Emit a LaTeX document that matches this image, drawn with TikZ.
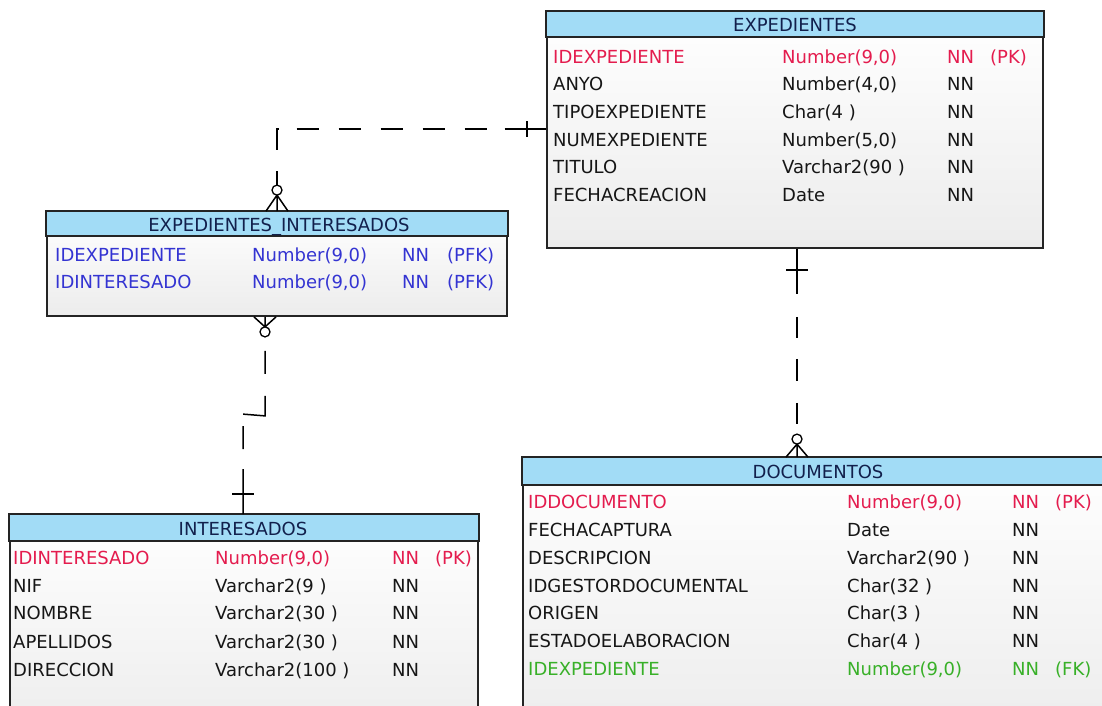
\documentclass[tikz,border=0pt]{standalone}
\usepackage{fontspec}
\setmainfont{DejaVu Sans}
\usetikzlibrary{calc}
\definecolor{pkred}{RGB}{228,28,78}
\definecolor{pfkblue}{RGB}{52,52,210}
\definecolor{fkgreen}{RGB}{56,176,40}
\definecolor{txt}{RGB}{22,22,22}
\definecolor{ttl}{RGB}{18,32,76}
\definecolor{hdrblue}{RGB}{162,220,246}
\definecolor{bord}{RGB}{36,36,36}
\definecolor{bodybot}{RGB}{236,236,236}
\newcommand\tabrow[7]{%
  \node[cell,text=#3] (#1-a) at (\cA,#2+6.6) {#4};
  \node[cell,text=#3] (#1-b) at (\cB,#2+6.6) {#5};
  \node[cell,text=#3] (#1-c) at (\cC,#2+6.6) {#6};
  \if\relax\detokenize{#7}\relax\else
  \node[cell,text=#3] (#1-d) at (\cD,#2+6.6) {#7};
  \fi}
\begin{document}
\begin{tikzpicture}[x=1pt,y=-1pt,
  tbl/.style={draw=bord,line width=1.8pt,top color=white,bottom color=bodybot,inner sep=0pt},
  hdr/.style={draw=bord,line width=1.8pt,fill=hdrblue},
  cell/.style={anchor=base west,inner sep=0pt,font=\fontsize{18}{20}\selectfont},
  ttlnode/.style={anchor=base,inner sep=0pt,text=ttl,font=\fontsize{18}{20}\selectfont},
  rel/.style={line width=1.5pt,black},
  knot/.style={line width=1.3pt,black,fill=white}]
\useasboundingbox (0,0) rectangle (1102,705);
\clip (0,0) rectangle (1102,705);
\fill[white] (0,0) rectangle (1102,705);

% ---- tables
\node[tbl,minimum width=496pt,minimum height=236pt] (exp) at (795,130) {};
\draw[hdr] (exp.north west) rectangle ([yshift=-26pt]exp.north east);
\node[ttlnode] (exp-t) at (795,31.6) {EXPEDIENTES};

\node[tbl,minimum width=460pt,minimum height=104pt] (ei) at (277,264) {};
\draw[hdr] (ei.north west) rectangle ([yshift=-25pt]ei.north east);
\node[ttlnode] (ei-t) at (279,231.1) {EXPEDIENTES\_INTERESADOS};

\node[tbl,minimum width=468pt,minimum height=225pt] (int) at (244,627.5) {};
\draw[hdr] (int.north west) rectangle ([yshift=-27pt]int.north east);
\node[ttlnode] (int-t) at (243,535.1) {INTERESADOS};

\node[tbl,minimum width=590pt,minimum height=282pt] (doc) at (818,599) {};
\draw[hdr] (doc.north west) rectangle ([yshift=-28pt]doc.north east);
\node[ttlnode] (doc-t) at (818,478.6) {DOCUMENTOS};

% ---- rows
\def\cA{553}\def\cB{782}\def\cC{947}\def\cD{990}
\tabrow{e1}{57}{pkred}{IDEXPEDIENTE}{Number(9,0)}{NN}{(PK)}
\tabrow{e2}{84}{txt}{ANYO}{Number(4,0)}{NN}{}
\tabrow{e3}{112}{txt}{TIPOEXPEDIENTE}{Char(4 )}{NN}{}
\tabrow{e4}{140}{txt}{NUMEXPEDIENTE}{Number(5,0)}{NN}{}
\tabrow{e5}{167}{txt}{TITULO}{Varchar2(90 )}{NN}{}
\tabrow{e6}{195}{txt}{FECHACREACION}{Date}{NN}{}

\def\cA{55}\def\cB{252}\def\cC{402}\def\cD{447}
\tabrow{i1}{255}{pfkblue}{IDEXPEDIENTE}{Number(9,0)}{NN}{(PFK)}
\tabrow{i2}{282}{pfkblue}{IDINTERESADO}{Number(9,0)}{NN}{(PFK)}

\def\cA{13}\def\cB{215}\def\cC{392}\def\cD{435}
\tabrow{n1}{558}{pkred}{IDINTERESADO}{Number(9,0)}{NN}{(PK)}
\tabrow{n2}{586}{txt}{NIF}{Varchar2(9 )}{NN}{}
\tabrow{n3}{613}{txt}{NOMBRE}{Varchar2(30 )}{NN}{}
\tabrow{n4}{642}{txt}{APELLIDOS}{Varchar2(30 )}{NN}{}
\tabrow{n5}{670}{txt}{DIRECCION}{Varchar2(100 )}{NN}{}

\def\cA{528}\def\cB{847}\def\cC{1012}\def\cD{1055}
\tabrow{d1}{502}{pkred}{IDDOCUMENTO}{Number(9,0)}{NN}{(PK)}
\tabrow{d2}{530}{txt}{FECHACAPTURA}{Date}{NN}{}
\tabrow{d3}{558}{txt}{DESCRIPCION}{Varchar2(90 )}{NN}{}
\tabrow{d4}{586}{txt}{IDGESTORDOCUMENTAL}{Char(32 )}{NN}{}
\tabrow{d5}{613}{txt}{ORIGEN}{Char(3 )}{NN}{}
\tabrow{d6}{641}{txt}{ESTADOELABORACION}{Char(4 )}{NN}{}
\tabrow{d7}{669}{fkgreen}{IDEXPEDIENTE}{Number(9,0)}{NN}{(FK)}

% ---- connector 1: EXPEDIENTES -> EXPEDIENTES_INTERESADOS
\coordinate (c1a) at ($(exp.north west)+(0,118)$);
\coordinate (c1b) at ($(ei.north)+(0,-82)$);
\draw[rel,dash pattern=on 14pt off 21.5pt on 22pt off 18pt on 22pt off 20pt on 22pt off 20pt on 22pt off 20pt on 22pt off 20pt on 22pt off 18pt on 60pt]
  ($(ei.north)+(0,-26)$) -- (c1b) -- (c1a);
\draw[rel] ($(c1a)+(-19,-8)$) -- ($(c1a)+(-19,8)$);
\draw[rel] ($(ei.north)+(-11,0)$) -- ($(ei.north)+(0,-16)$) -- ($(ei.north)+(11,0)$)
  (ei.north) -- ($(ei.north)+(0,-16)$);
\draw[knot] ($(ei.north)+(0,-21)$) circle[radius=5];

% ---- connector 2: EXPEDIENTES_INTERESADOS -> INTERESADOS
\coordinate (c2a) at ($(ei.south)+(-12,0)$);
\coordinate (c2b) at ($(int.north)+(-1,0)$);
\draw[rel,dash pattern=on 23pt off 22pt on 42pt off 12pt on 23pt off 20pt on 60pt off 14pt,dash phase=202pt]
  ($(c2a)+(0,20)$) -- ($(c2a)+(0,99)$) -- ($(c2b)+(0,-100)$) -- (c2b);
\draw[rel] ($(c2b)+(-11,-20)$) -- ($(c2b)+(11,-20)$);
\draw[rel] ($(c2a)+(-11,0)$) -- ($(c2a)+(0,10)$) -- ($(c2a)+(11,0)$)
  (c2a) -- ($(c2a)+(0,10)$);
\draw[knot] ($(c2a)+(0,15)$) circle[radius=5];

% ---- connector 3: EXPEDIENTES -> DOCUMENTOS
\coordinate (c3a) at ($(exp.south)+(2,0)$);
\coordinate (c3b) at ($(doc.north)+(-21,0)$);
\draw[rel,dash pattern=on 45pt off 23pt on 21pt off 21pt on 22pt off 22pt on 21pt off 30pt]
  (c3a) -- ($(c3b)+(0,-23)$);
\draw[rel] ($(c3a)+(-11,21)$) -- ($(c3a)+(11,21)$);
\draw[rel] ($(c3b)+(-11,0)$) -- ($(c3b)+(0,-13)$) -- ($(c3b)+(11,0)$)
  (c3b) -- ($(c3b)+(0,-13)$);
\draw[knot] ($(c3b)+(0,-18)$) circle[radius=5];
\end{tikzpicture}
\end{document}
